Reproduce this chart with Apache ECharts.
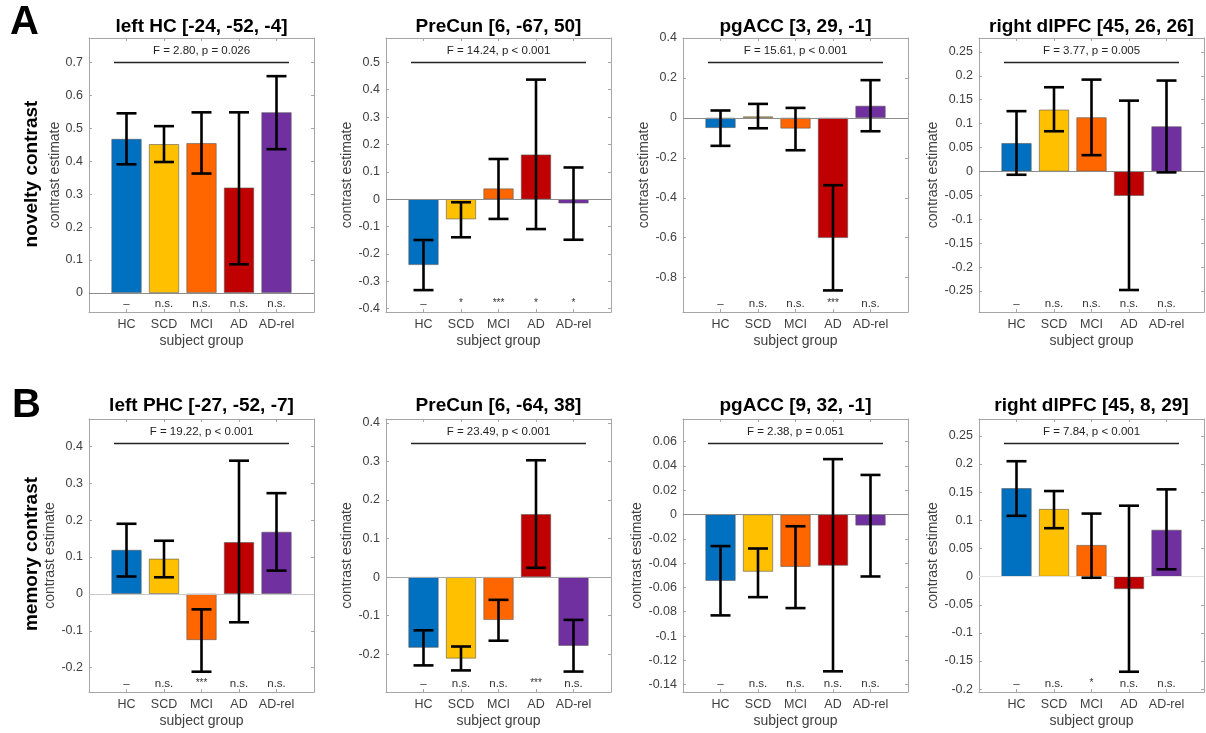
<!DOCTYPE html>
<html lang="en">
<head>
<meta charset="UTF-8">
<title>novelty / memory contrast by subject group</title>
<script src="https://cdn.jsdelivr.net/npm/echarts@6/dist/echarts.min.js"></script>
<style>
    html, body { margin: 0; padding: 0; background: #fff; }
    #main { width: 1206px; height: 733px; }
</style>
</head>
<body>
<div id="main"></div>

<script type="text/javascript">
    // groups on the x axis
    var groups = ['HC', 'SCD', 'MCI', 'AD', 'AD-rel'];
    var groupColors = ['#0070C0', '#FFC000', '#FF6600', '#C00000', '#7030A0'];

    // panels: row A (novelty contrast) then row B (memory contrast)
    var panelTitles = ['left HC [-24, -52, -4]', 'PreCun [6, -67, 50]', 'pgACC [3, 29, -1]', 'right dlPFC [45, 26, 26]',
                       'left PHC [-27, -52, -7]', 'PreCun [6, -64, 38]', 'pgACC [9, 32, -1]', 'right dlPFC [45, 8, 29]'];
    var statLabels = ['F = 2.80, p = 0.026', 'F = 14.24, p < 0.001', 'F = 15.61, p < 0.001', 'F = 3.77, p = 0.005',
                      'F = 19.22, p < 0.001', 'F = 23.49, p < 0.001', 'F = 2.38, p = 0.051', 'F = 7.84, p < 0.001'];

    // contrast estimates (bar heights)
    var estimates = [
        [0.468, 0.452, 0.455, 0.320, 0.549],
        [-0.240, -0.073, 0.039, 0.163, -0.015],
        [-0.050, 0.007, -0.053, -0.601, 0.060],
        [0.059, 0.129, 0.113, -0.051, 0.094],
        [0.119, 0.095, -0.125, 0.140, 0.168],
        [-0.183, -0.211, -0.111, 0.163, -0.178],
        [-0.0545, -0.047, -0.043, -0.042, -0.009],
        [0.157, 0.120, 0.056, -0.022, 0.083]
    ];
    // error bar ends
    var errLow = [
        [0.391, 0.398, 0.363, 0.087, 0.437],
        [-0.332, -0.139, -0.072, -0.109, -0.148],
        [-0.140, -0.052, -0.162, -0.864, -0.067],
        [-0.007, 0.084, 0.034, -0.248, -0.002],
        [0.047, 0.045, -0.211, -0.077, 0.063],
        [-0.229, -0.242, -0.165, 0.024, -0.245],
        [-0.083, -0.068, -0.077, -0.129, -0.051],
        [0.108, 0.086, -0.002, -0.169, 0.013]
    ];
    var errHigh = [
        [0.546, 0.507, 0.549, 0.549, 0.659],
        [-0.149, -0.011, 0.147, 0.437, 0.116],
        [0.037, 0.070, 0.050, -0.337, 0.189],
        [0.126, 0.176, 0.192, 0.148, 0.190],
        [0.190, 0.144, -0.042, 0.361, 0.273],
        [-0.138, -0.180, -0.059, 0.303, -0.111],
        [-0.026, -0.028, -0.0097, 0.0455, 0.0325],
        [0.205, 0.152, 0.112, 0.126, 0.155]
    ];
    // post-hoc significance vs HC
    var sigLabels = [
        ['–', 'n.s.', 'n.s.', 'n.s.', 'n.s.'],
        ['–', '*', '***', '*', '*'],
        ['–', 'n.s.', 'n.s.', '***', 'n.s.'],
        ['–', 'n.s.', 'n.s.', 'n.s.', 'n.s.'],
        ['–', 'n.s.', '***', 'n.s.', 'n.s.'],
        ['–', 'n.s.', 'n.s.', '***', 'n.s.'],
        ['–', 'n.s.', 'n.s.', 'n.s.', 'n.s.'],
        ['–', 'n.s.', '*', 'n.s.', 'n.s.']
    ];

    // y limits and tick labels
    var yMin = [-0.058, -0.412, -0.972, -0.294, -0.266, -0.298, -0.146, -0.205];
    var yMax = [0.775, 0.589, 0.4, 0.279, 0.474, 0.41, 0.0785, 0.28];
    var yTicks = [
        [0, 0.1, 0.2, 0.3, 0.4, 0.5, 0.6, 0.7],
        [-0.4, -0.3, -0.2, -0.1, 0, 0.1, 0.2, 0.3, 0.4, 0.5],
        [-0.8, -0.6, -0.4, -0.2, 0, 0.2, 0.4],
        [-0.25, -0.2, -0.15, -0.1, -0.05, 0, 0.05, 0.1, 0.15, 0.2, 0.25],
        [-0.2, -0.1, 0, 0.1, 0.2, 0.3, 0.4],
        [-0.2, -0.1, 0, 0.1, 0.2, 0.3, 0.4],
        [-0.14, -0.12, -0.1, -0.08, -0.06, -0.04, -0.02, 0, 0.02, 0.04, 0.06],
        [-0.2, -0.15, -0.1, -0.05, 0, 0.05, 0.1, 0.15, 0.2, 0.25]
    ];

    // layout
    var colLeft = [89, 386, 683, 979];
    var rowTop = [38, 419];
    var plotH = [274, 273];
    var plotW = 225;
    var titleY = [27, 406];
    var yNameGap = [25, 30, 28, 30, 29, 30, 37, 35];
    var baseLineColors = ['#8c8c8c', '#8c8c8c', '#8c8c8c', '#8c8c8c', '#c8c8c8', '#a6a6a6', '#8c8c8c', '#e0e0e0'];

    var axisGray = '#a6a6a6';
    var textGray = '#404040';
    var xPos = groups.map(function (g, i) { return i + 1; });

    var myChart = echarts.init(document.getElementById('main'));

    var grids = [], xAxes = [], yAxes = [], series = [], titles = [];

    function errorBarItem(params, api) {
        var x = api.value(0);
        var lo = api.coord([x, api.value(1)]);
        var hi = api.coord([x, api.value(2)]);
        var cap = 10;
        var st = { stroke: '#000', lineWidth: 2.6 };
        return {
            type: 'group',
            children: [
                { type: 'line', shape: { x1: lo[0], y1: lo[1], x2: hi[0], y2: hi[1] }, style: st },
                { type: 'line', shape: { x1: lo[0] - cap, y1: lo[1], x2: lo[0] + cap, y2: lo[1] }, style: st },
                { type: 'line', shape: { x1: hi[0] - cap, y1: hi[1], x2: hi[0] + cap, y2: hi[1] }, style: st }
            ]
        };
    }

    for (var p = 0; p < 8; p++) {
        (function (p) {
            var row = Math.floor(p / 4), col = p % 4;
            grids.push({ left: colLeft[col], top: rowTop[row], width: plotW, height: plotH[row], containLabel: false, outerBoundsMode: 'none' });

            titles.push({
                text: panelTitles[p],
                left: colLeft[col] + plotW / 2,
                top: titleY[row],
                textAlign: 'center',
                textVerticalAlign: 'middle',
                padding: 0,
                textStyle: { fontFamily: 'Arial', fontSize: 19, fontWeight: 'bold', color: '#000' }
            });

            // bottom x axis with labels
            xAxes.push({
                gridIndex: p, type: 'value', min: 0, max: 6, position: 'bottom',
                axisLine: { onZero: false, lineStyle: { color: axisGray } },
                axisTick: { inside: true, length: 3, customValues: xPos, lineStyle: { color: axisGray } },
                axisLabel: {
                    customValues: xPos, color: textGray, fontFamily: 'Arial', fontSize: 12.5, margin: 6,
                    formatter: function (v) { return groups[v - 1]; }
                },
                splitLine: { show: false },
                name: 'subject group', nameLocation: 'middle', nameGap: 22,
                nameTextStyle: { color: textGray, fontFamily: 'Arial', fontSize: 14 }
            });
            // top x axis (box edge)
            xAxes.push({
                gridIndex: p, type: 'value', min: 0, max: 6, position: 'top',
                axisLine: { onZero: false, lineStyle: { color: axisGray } },
                axisTick: { inside: true, length: 3, customValues: xPos, lineStyle: { color: axisGray } },
                axisLabel: { show: false },
                splitLine: { show: false }
            });
            // left y axis
            yAxes.push({
                gridIndex: p, type: 'value', min: yMin[p], max: yMax[p], position: 'left',
                axisLine: { show: true, onZero: false, lineStyle: { color: axisGray } },
                axisTick: { show: true, inside: true, length: 3, customValues: yTicks[p], lineStyle: { color: axisGray } },
                axisLabel: {
                    customValues: yTicks[p], color: textGray, fontFamily: 'Arial', fontSize: 12.5, margin: 6,
                    formatter: function (v) { return String(v); }
                },
                splitLine: { show: false },
                name: 'contrast estimate', nameLocation: 'middle', nameRotate: 90, nameGap: yNameGap[p],
                nameTextStyle: { color: textGray, fontFamily: 'Arial', fontSize: 14 }
            });
            // right y axis (box edge)
            yAxes.push({
                gridIndex: p, type: 'value', min: yMin[p], max: yMax[p], position: 'right',
                axisLine: { show: true, onZero: false, lineStyle: { color: axisGray } },
                axisTick: { show: true, inside: true, length: 3, customValues: yTicks[p], lineStyle: { color: axisGray } },
                axisLabel: { show: false },
                splitLine: { show: false }
            });

            series.push({
                type: 'bar',
                xAxisIndex: 2 * p, yAxisIndex: 2 * p,
                barWidth: 30,
                itemStyle: { borderColor: '#595959', borderWidth: 0.6 },
                data: estimates[p].map(function (v, i) {
                    return { value: [i + 1, v], itemStyle: { color: groupColors[i] } };
                }),
                markLine: {
                    silent: true, symbol: ['none', 'none'], label: { show: false },
                    lineStyle: { color: baseLineColors[p], type: 'solid', width: 1.2 },
                    data: [{ yAxis: 0 }]
                }
            });

            series.push({
                type: 'custom',
                xAxisIndex: 2 * p, yAxisIndex: 2 * p,
                renderItem: errorBarItem,
                data: estimates[p].map(function (v, i) { return [i + 1, errLow[p][i], errHigh[p][i]]; }),
                z: 5
            });

            // significance marks along the bottom of the box
            series.push({
                type: 'custom',
                xAxisIndex: 2 * p, yAxisIndex: 2 * p,
                renderItem: function (params, api) {
                    var cs = params.coordSys;
                    var pt = api.coord([api.value(0), 0]);
                    var lab = sigLabels[p][params.dataIndex];
                    return {
                        type: 'text',
                        style: {
                            text: lab, x: pt[0], y: cs.y + cs.height - (lab.charAt(0) === '*' ? 9 : 8),
                            align: 'center', verticalAlign: 'middle',
                            fill: '#333', font: (lab.charAt(0) === '*' ? '10px' : '11.5px') + ' Arial'
                        }
                    };
                },
                data: xPos.map(function (x) { return [x]; }),
                z: 5
            });

            // omnibus test line + label
            series.push({
                type: 'custom',
                xAxisIndex: 2 * p, yAxisIndex: 2 * p,
                renderItem: function (params, api) {
                    var cs = params.coordSys;
                    var a = api.coord([0.667, 0])[0];
                    var b = api.coord([5.333, 0])[0];
                    var ly = cs.y + 24.5;
                    return {
                        type: 'group',
                        children: [
                            { type: 'line', shape: { x1: a, y1: ly, x2: b, y2: ly }, style: { stroke: '#222', lineWidth: 1.3 } },
                            {
                                type: 'text',
                                style: {
                                    text: statLabels[p], x: (a + b) / 2, y: cs.y + 13,
                                    align: 'center', verticalAlign: 'middle', fill: '#222', font: '11.5px Arial'
                                }
                            }
                        ]
                    };
                },
                data: [[0]],
                z: 5
            });
        })(p);
    }

    var option = {
        animation: false,
        backgroundColor: '#fff',
        title: titles,
        grid: grids,
        xAxis: xAxes,
        yAxis: yAxes,
        series: series,
        graphic: [
            { type: 'text', x: 10, y: 23, style: { text: 'A', font: 'bold 40px Arial', fill: '#000', align: 'left', verticalAlign: 'middle' } },
            { type: 'text', x: 12, y: 406, style: { text: 'B', font: 'bold 40px Arial', fill: '#000', align: 'left', verticalAlign: 'middle' } },
            { type: 'text', x: 32, y: 174, rotation: Math.PI / 2, style: { text: 'novelty contrast', font: 'bold 19px Arial', fill: '#000', align: 'center', verticalAlign: 'middle' } },
            { type: 'text', x: 32, y: 554, rotation: Math.PI / 2, style: { text: 'memory contrast', font: 'bold 19px Arial', fill: '#000', align: 'center', verticalAlign: 'middle' } }
        ]
    };

    myChart.setOption(option);
</script>
</body>
</html>
